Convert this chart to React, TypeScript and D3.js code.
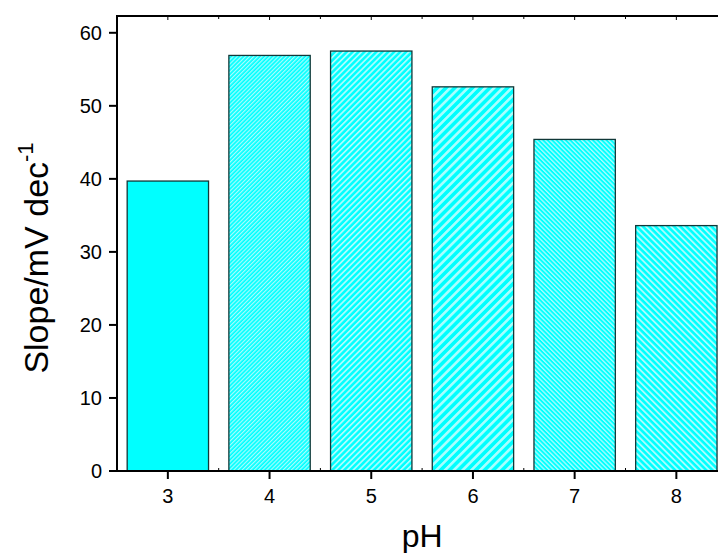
import React, { useRef, useEffect } from 'react';
import * as d3 from 'd3';

const phLabels = ['3', '4', '5', '6', '7', '8'];
const slopes = [39.7, 56.9, 57.5, 52.6, 45.4, 33.6];
const yTicks = [0, 10, 20, 30, 40, 50, 60];
// hatch per bar: null = solid, else [angle, period]; 45 gives "/" stripes, -45 gives "\"
const hatches: (null | [number, number])[] = [null, [45, 2.9], [45, 4.2], [45, 6.2], [-45, 3.2], [-45, 4.4]];

const FONT = 'Liberation Sans, Arial, sans-serif';

const App = () => {
  const svgRef = useRef<SVGSVGElement>(null);

  useEffect(() => {
    if (!svgRef.current) return;
    const width = 718, height = 553;
    const margin = { top: 16, right: -10, bottom: 82, left: 117 };
    const innerW = width - margin.left - margin.right;
    const innerH = height - margin.top - margin.bottom;

    const svg = d3.select(svgRef.current);
    svg.selectAll('*').remove();
    svg.attr('width', width).attr('height', height);

    const defs = svg.append('defs');
    hatches.forEach((h, i) => {
      if (!h) return;
      const [ang, p] = h;
      const pat = defs.append('pattern')
        .attr('id', `hatch${i}`)
        .attr('patternUnits', 'userSpaceOnUse')
        .attr('width', p).attr('height', p)
        .attr('patternTransform', `rotate(${ang})`);
      pat.append('rect').attr('width', p).attr('height', p).attr('fill', '#00ffff');
      pat.append('rect').attr('width', p * 0.42).attr('height', p).attr('fill', '#a8ffff');
    });

    const g = svg.append('g').attr('transform', `translate(${margin.left},${margin.top})`);

    // band scale over the six pH values, outer half-step at the left axis
    const step = 101.7;
    const x = d3.scaleBand().domain(phLabels)
      .range([0, step * phLabels.length]).paddingInner(0.2).paddingOuter(0.1);
    const xc = (d: string) => (x(d) ?? 0) + x.bandwidth() / 2;
    const bw = x.bandwidth();

    const y = d3.scaleLinear().domain([0, 62.3]).range([innerH, 0]);

    // bars
    g.selectAll('.bar').data(slopes).enter().append('rect')
      .attr('x', (_, i) => x(phLabels[i]) ?? 0)
      .attr('y', d => y(d))
      .attr('width', bw)
      .attr('height', d => innerH - y(d))
      .attr('fill', (_, i) => hatches[i] ? `url(#hatch${i})` : '#00ffff')
      .attr('stroke', '#103838')
      .attr('stroke-width', 1.3);

    // y axis ticks
    const yAxis = g.append('g');
    yTicks.forEach(t => {
      yAxis.append('line').attr('x1', -8).attr('x2', 0).attr('y1', y(t)).attr('y2', y(t))
        .attr('stroke', '#000').attr('stroke-width', 2);
      yAxis.append('text').attr('x', -15).attr('y', y(t)).attr('dy', '0.36em')
        .attr('text-anchor', 'end').attr('font-family', FONT)
        .attr('font-size', 20).text(t);
    });

    // x ticks
    phLabels.forEach((d) => {
      const cx = xc(d);
      g.append('line').attr('x1', cx).attr('x2', cx).attr('y1', innerH).attr('y2', innerH + 8)
        .attr('stroke', '#000').attr('stroke-width', 2);
      g.append('text').attr('x', cx).attr('y', innerH + 32).attr('text-anchor', 'middle')
        .attr('font-family', FONT).attr('font-size', 20).text(d);
      // top ticks
      g.append('line').attr('x1', cx).attr('x2', cx).attr('y1', 0).attr('y2', 4)
        .attr('stroke', '#000').attr('stroke-width', 1);
      // minor ticks
      const mx = cx + step / 2;
      g.append('line').attr('x1', mx).attr('x2', mx).attr('y1', innerH).attr('y2', innerH - 3)
        .attr('stroke', '#000').attr('stroke-width', 1);
      g.append('line').attr('x1', mx).attr('x2', mx).attr('y1', 0).attr('y2', 3)
        .attr('stroke', '#000').attr('stroke-width', 1);
    });

    // frame
    g.append('line').attr('x1', 0).attr('x2', 0).attr('y1', -1).attr('y2', innerH + 1)
      .attr('stroke', '#000').attr('stroke-width', 2);
    g.append('line').attr('x1', -1).attr('x2', innerW).attr('y1', innerH).attr('y2', innerH)
      .attr('stroke', '#000').attr('stroke-width', 2);
    g.append('line').attr('x1', -1).attr('x2', innerW).attr('y1', 0).attr('y2', 0)
      .attr('stroke', '#000').attr('stroke-width', 2);

    // axis titles
    svg.append('text').attr('x', margin.left + xc('5') + step / 2).attr('y', 547)
      .attr('text-anchor', 'middle').attr('font-family', FONT)
      .attr('font-size', 32).text('pH');

    const yl = svg.append('text')
      .attr('transform', `translate(48,258) rotate(-90)`)
      .attr('text-anchor', 'middle').attr('font-family', FONT)
      .attr('font-size', 34);
    yl.append('tspan').text('Slope/mV dec');
    yl.append('tspan').attr('font-size', 22).attr('dy', -15).text('-1');
  }, []);

  return <svg ref={svgRef} style={{ position: 'absolute', left: 0, top: 0 }} />;
};

export default App;
